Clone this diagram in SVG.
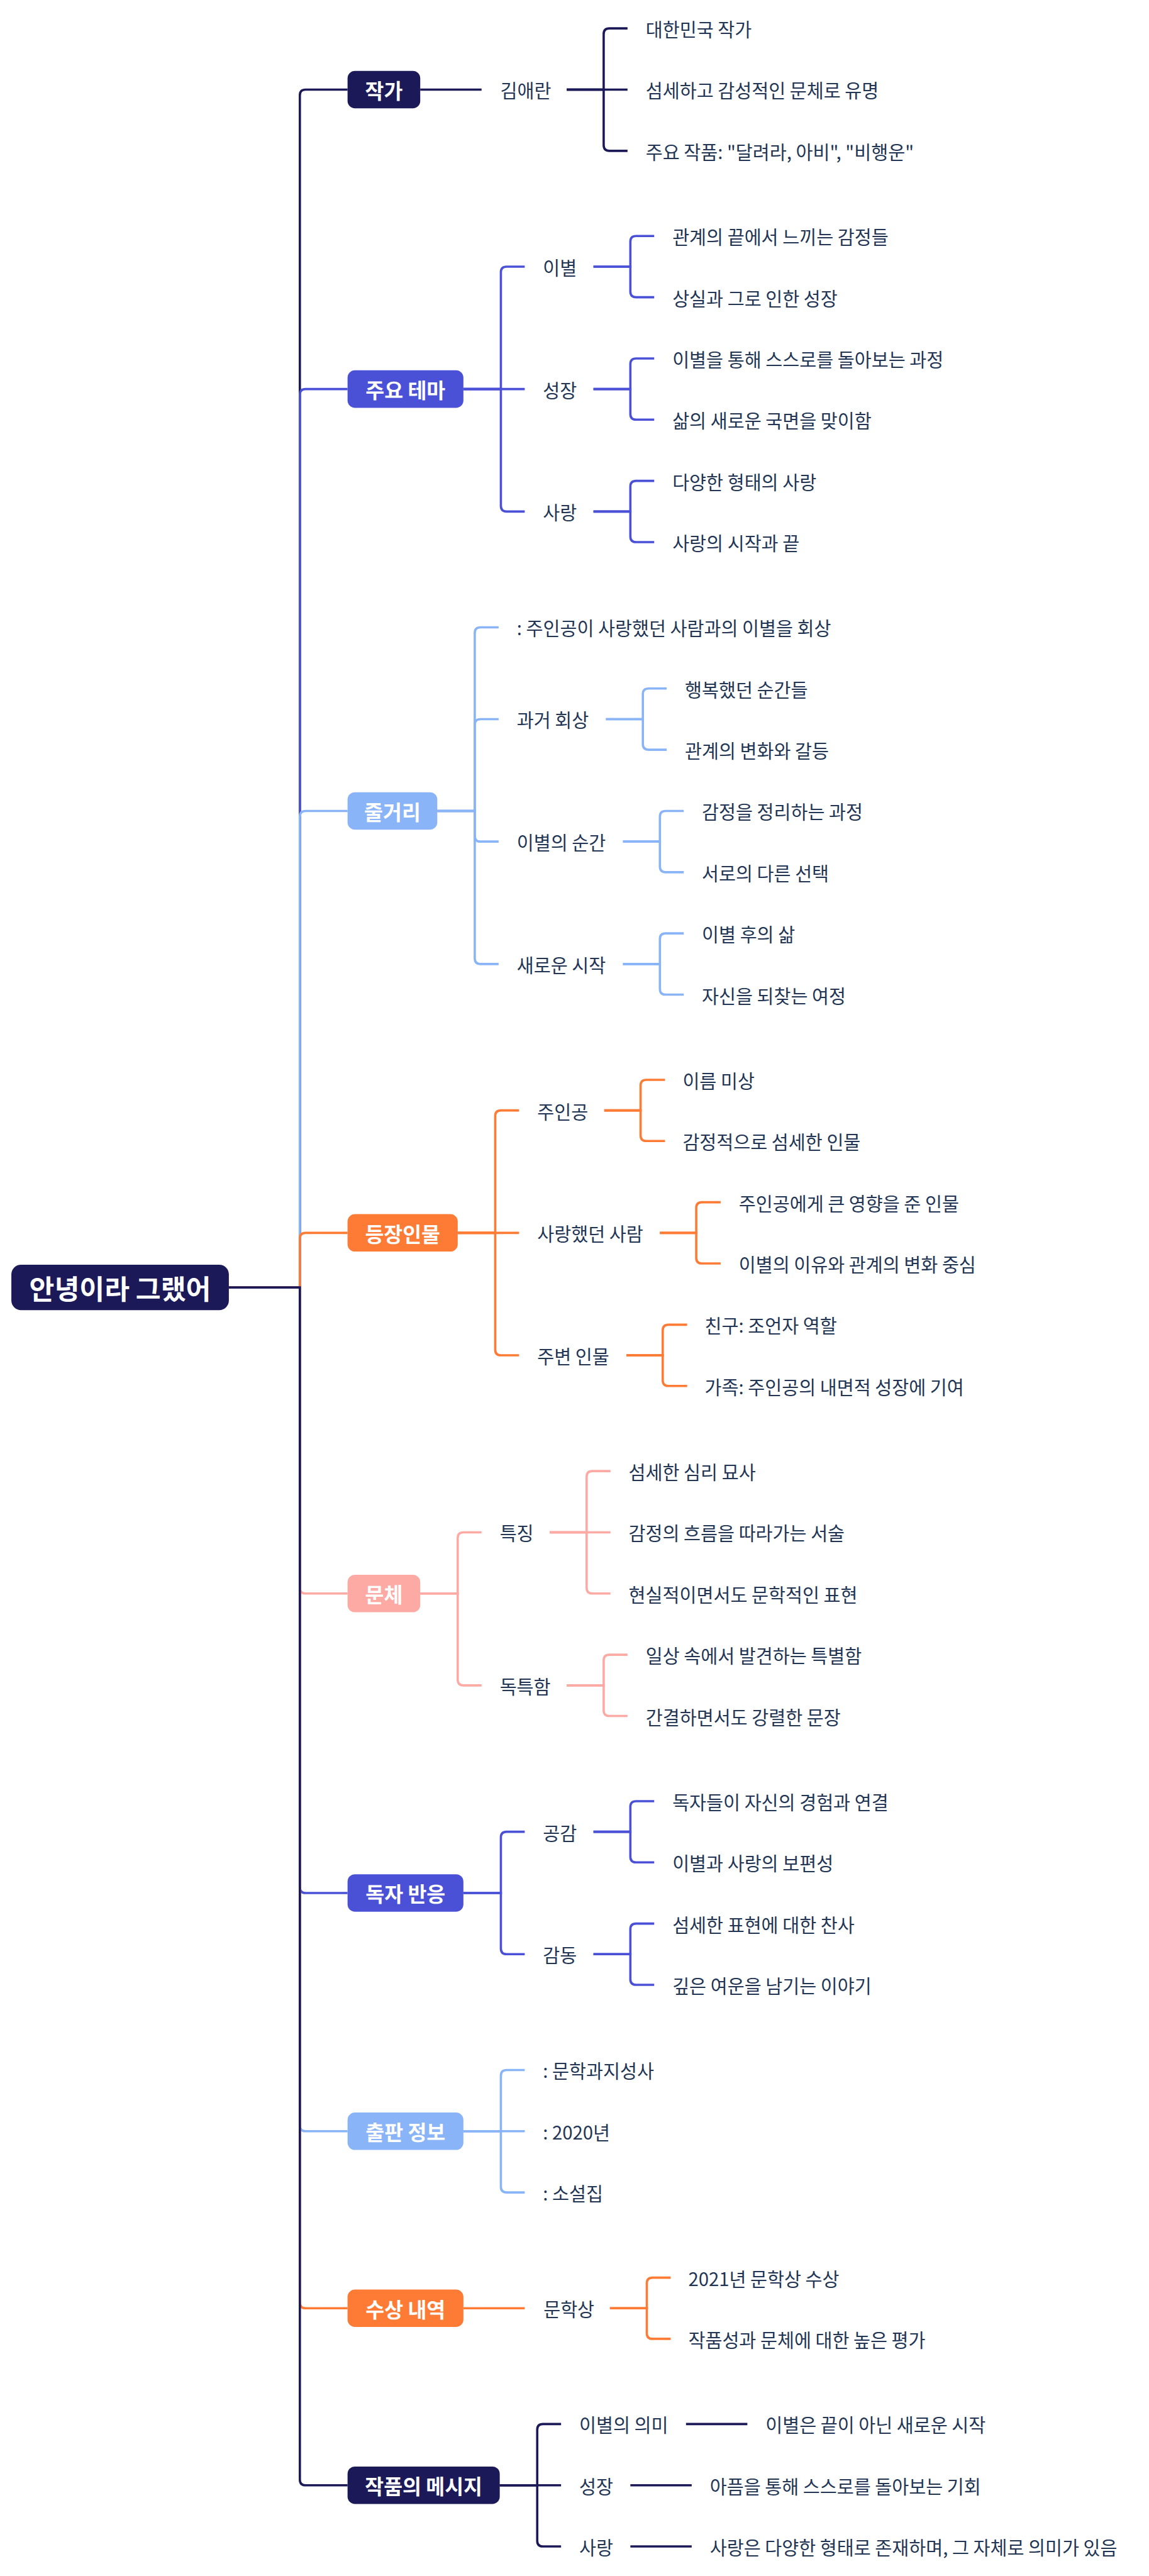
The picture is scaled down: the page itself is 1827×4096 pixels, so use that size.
<svg xmlns="http://www.w3.org/2000/svg" width="1827" height="4096" viewBox="0 0 1827 4096">
<style>
.t{font-family:"Noto Sans CJK KR","Noto Sans",sans-serif;font-size:32.5px;fill:#223555;dominant-baseline:central}
.b{font-family:"Noto Sans CJK KR","Noto Sans",sans-serif;font-size:36px;font-weight:700;fill:#ffffff;text-anchor:middle;dominant-baseline:central}
.r{font-size:48px}
.c path{fill:none;stroke-width:4}
.navy{fill:#1c1959}.blue{fill:#4b51d7}.lb{fill:#8ab4f8}.or{fill:#fd7b35}.pk{fill:#fda9a4}
.sn{stroke:#1c1959}.sb{stroke:#4b51d7}.sl{stroke:#8ab4f8}.so{stroke:#fd7b35}.sp{stroke:#fda9a4}
</style>
<rect width="1827" height="4096" fill="#ffffff"/>
<g transform="scale(0.903)">
<g id="connectors" class="c">
<path class="sn" d="M403,2267 H528 V167.8 Q528,157.8 538,157.8 H612"/>
<path class="sb" d="M403,2267 H528 V695.1 Q528,685.1 538,685.1 H612"/>
<path class="sl" d="M403,2267 H528 V1438 Q528,1428 538,1428 H612"/>
<path class="so" d="M403,2267 H528 V2180.9 Q528,2170.9 538,2170.9 H612"/>
<path class="sp" d="M403,2267 H528 V2796 Q528,2806 538,2806 H612"/>
<path class="sb" d="M403,2267 H528 V3323.3 Q528,3333.3 538,3333.3 H612"/>
<path class="sl" d="M403,2267 H528 V3742.8 Q528,3752.8 538,3752.8 H612"/>
<path class="so" d="M403,2267 H528 V4054.5 Q528,4064.5 538,4064.5 H612"/>
<path class="sn" d="M403,2267 H528 V4366.2 Q528,4376.2 538,4376.2 H612"/>

<path class="sn" d="M740,157.8 H848"/>
<path class="sn" d="M998,157.8 H1063 V60 Q1063,50 1073,50 H1105"/>
<path class="sn" d="M998,157.8 H1105"/>
<path class="sn" d="M998,157.8 H1063 V255.6 Q1063,265.6 1073,265.6 H1105"/>

<path class="sb" d="M816,685.1 H882 V479.5 Q882,469.5 892,469.5 H924"/>
<path class="sb" d="M816,685.1 H924"/>
<path class="sb" d="M816,685.1 H882 V890.7 Q882,900.7 892,900.7 H924"/>
<path class="sb" d="M1045,469.5 H1110 V425.6 Q1110,415.6 1120,415.6 H1152"/>
<path class="sb" d="M1045,469.5 H1110 V513.4 Q1110,523.4 1120,523.4 H1152"/>
<path class="sb" d="M1045,685.1 H1110 V641.2 Q1110,631.2 1120,631.2 H1152"/>
<path class="sb" d="M1045,685.1 H1110 V729 Q1110,739 1120,739 H1152"/>
<path class="sb" d="M1045,900.7 H1110 V856.8 Q1110,846.8 1120,846.8 H1152"/>
<path class="sb" d="M1045,900.7 H1110 V944.6 Q1110,954.6 1120,954.6 H1152"/>

<path class="sl" d="M770,1428 H836 V1114.6 Q836,1104.6 846,1104.6 H878"/>
<path class="sl" d="M770,1428 H836 V1276.3 Q836,1266.3 846,1266.3 H878"/>
<path class="sl" d="M770,1428 H836 V1471.9 Q836,1481.9 846,1481.9 H878"/>
<path class="sl" d="M770,1428 H836 V1687.5 Q836,1697.5 846,1697.5 H878"/>
<path class="sl" d="M1067,1266.3 H1132 V1222.4 Q1132,1212.4 1142,1212.4 H1174"/>
<path class="sl" d="M1067,1266.3 H1132 V1310.2 Q1132,1320.2 1142,1320.2 H1174"/>
<path class="sl" d="M1097,1481.9 H1162 V1438 Q1162,1428 1172,1428 H1204"/>
<path class="sl" d="M1097,1481.9 H1162 V1525.8 Q1162,1535.8 1172,1535.8 H1204"/>
<path class="sl" d="M1097,1697.5 H1162 V1653.6 Q1162,1643.6 1172,1643.6 H1204"/>
<path class="sl" d="M1097,1697.5 H1162 V1741.4 Q1162,1751.4 1172,1751.4 H1204"/>

<path class="so" d="M806,2170.9 H872 V1965.3 Q872,1955.3 882,1955.3 H914"/>
<path class="so" d="M806,2170.9 H914"/>
<path class="so" d="M806,2170.9 H872 V2376.5 Q872,2386.5 882,2386.5 H914"/>
<path class="so" d="M1064,1955.3 H1128 V1911.4 Q1128,1901.4 1138,1901.4 H1171"/>
<path class="so" d="M1064,1955.3 H1128 V1999.2 Q1128,2009.2 1138,2009.2 H1171"/>
<path class="so" d="M1162,2170.9 H1226 V2127 Q1226,2117 1236,2117 H1269"/>
<path class="so" d="M1162,2170.9 H1226 V2214.8 Q1226,2224.8 1236,2224.8 H1269"/>
<path class="so" d="M1103,2386.5 H1167 V2342.6 Q1167,2332.6 1177,2332.6 H1210"/>
<path class="so" d="M1103,2386.5 H1167 V2430.4 Q1167,2440.4 1177,2440.4 H1210"/>

<path class="sp" d="M740,2806 H806 V2708.2 Q806,2698.2 816,2698.2 H848"/>
<path class="sp" d="M740,2806 H806 V2957.7 Q806,2967.7 816,2967.7 H848"/>
<path class="sp" d="M968,2698.2 H1033 V2600.4 Q1033,2590.4 1043,2590.4 H1075"/>
<path class="sp" d="M968,2698.2 H1075"/>
<path class="sp" d="M968,2698.2 H1033 V2796 Q1033,2806 1043,2806 H1075"/>
<path class="sp" d="M998,2967.7 H1063 V2923.8 Q1063,2913.8 1073,2913.8 H1105"/>
<path class="sp" d="M998,2967.7 H1063 V3011.6 Q1063,3021.6 1073,3021.6 H1105"/>

<path class="sb" d="M816,3333.3 H882 V3235.5 Q882,3225.5 892,3225.5 H924"/>
<path class="sb" d="M816,3333.3 H882 V3431.1 Q882,3441.1 892,3441.1 H924"/>
<path class="sb" d="M1045,3225.5 H1110 V3181.6 Q1110,3171.6 1120,3171.6 H1152"/>
<path class="sb" d="M1045,3225.5 H1110 V3269.4 Q1110,3279.4 1120,3279.4 H1152"/>
<path class="sb" d="M1045,3441.1 H1110 V3397.2 Q1110,3387.2 1120,3387.2 H1152"/>
<path class="sb" d="M1045,3441.1 H1110 V3485 Q1110,3495 1120,3495 H1152"/>

<path class="sl" d="M816,3752.8 H882 V3655 Q882,3645 892,3645 H924"/>
<path class="sl" d="M816,3752.8 H924"/>
<path class="sl" d="M816,3752.8 H882 V3850.6 Q882,3860.6 892,3860.6 H924"/>

<path class="so" d="M816,4064.5 H924"/>
<path class="so" d="M1074,4064.5 H1139 V4020.6 Q1139,4010.6 1149,4010.6 H1181"/>
<path class="so" d="M1074,4064.5 H1139 V4108.4 Q1139,4118.4 1149,4118.4 H1181"/>

<path class="sn" d="M880,4376.2 H946 V4278.4 Q946,4268.4 956,4268.4 H988"/>
<path class="sn" d="M880,4376.2 H988"/>
<path class="sn" d="M880,4376.2 H946 V4474 Q946,4484 956,4484 H988"/>
<path class="sn" d="M1208,4268.4 H1316"/>
<path class="sn" d="M1110,4376.2 H1218"/>
<path class="sn" d="M1110,4484 H1218"/>
</g>

<g id="root"><rect class="navy" x="20" y="2227" width="383" height="80" rx="17"/><text class="b r" x="211.5" y="2267">안녕이라 그랬어</text></g>

<g id="b1"><rect class="navy" x="612" y="124.8" width="128" height="66" rx="13"/><text class="b" x="676" y="157.8">작가</text></g>
<g id="b1-1"><text class="t" x="881" y="157.8">김애란</text></g>
<g id="b1-1-1"><text class="t" x="1137" y="50">대한민국 작가</text></g>
<g id="b1-1-2"><text class="t" x="1137" y="157.8">섬세하고 감성적인 문체로 유명</text></g>
<g id="b1-1-3"><text class="t" x="1137" y="265.6">주요 작품: "달려라, 아비", "비행운"</text></g>

<g id="b2"><rect class="blue" x="612" y="652.1" width="204" height="66" rx="13"/><text class="b" x="714" y="685.1">주요 테마</text></g>
<g id="b2-1"><text class="t" x="956" y="469.5">이별</text></g>
<g id="b2-1-1"><text class="t" x="1184" y="415.6">관계의 끝에서 느끼는 감정들</text></g>
<g id="b2-1-2"><text class="t" x="1184" y="523.4">상실과 그로 인한 성장</text></g>
<g id="b2-2"><text class="t" x="956" y="685.1">성장</text></g>
<g id="b2-2-1"><text class="t" x="1184" y="631.2">이별을 통해 스스로를 돌아보는 과정</text></g>
<g id="b2-2-2"><text class="t" x="1184" y="739">삶의 새로운 국면을 맞이함</text></g>
<g id="b2-3"><text class="t" x="956" y="900.7">사랑</text></g>
<g id="b2-3-1"><text class="t" x="1184" y="846.8">다양한 형태의 사랑</text></g>
<g id="b2-3-2"><text class="t" x="1184" y="954.6">사랑의 시작과 끝</text></g>

<g id="b3"><rect class="lb" x="612" y="1395" width="158" height="66" rx="13"/><text class="b" x="691" y="1428">줄거리</text></g>
<g id="b3-1"><text class="t" x="910" y="1104.6">: 주인공이 사랑했던 사람과의 이별을 회상</text></g>
<g id="b3-2"><text class="t" x="910" y="1266.3">과거 회상</text></g>
<g id="b3-2-1"><text class="t" x="1206" y="1212.4">행복했던 순간들</text></g>
<g id="b3-2-2"><text class="t" x="1206" y="1320.2">관계의 변화와 갈등</text></g>
<g id="b3-3"><text class="t" x="910" y="1481.9">이별의 순간</text></g>
<g id="b3-3-1"><text class="t" x="1236" y="1428">감정을 정리하는 과정</text></g>
<g id="b3-3-2"><text class="t" x="1236" y="1535.8">서로의 다른 선택</text></g>
<g id="b3-4"><text class="t" x="910" y="1697.5">새로운 시작</text></g>
<g id="b3-4-1"><text class="t" x="1236" y="1643.6">이별 후의 삶</text></g>
<g id="b3-4-2"><text class="t" x="1236" y="1751.4">자신을 되찾는 여정</text></g>

<g id="b4"><rect class="or" x="612" y="2137.9" width="194" height="66" rx="13"/><text class="b" x="709" y="2170.9">등장인물</text></g>
<g id="b4-1"><text class="t" x="946" y="1955.3">주인공</text></g>
<g id="b4-1-1"><text class="t" x="1202" y="1901.4">이름 미상</text></g>
<g id="b4-1-2"><text class="t" x="1202" y="2009.2">감정적으로 섬세한 인물</text></g>
<g id="b4-2"><text class="t" x="946" y="2170.9">사랑했던 사람</text></g>
<g id="b4-2-1"><text class="t" x="1301" y="2117">주인공에게 큰 영향을 준 인물</text></g>
<g id="b4-2-2"><text class="t" x="1301" y="2224.8">이별의 이유와 관계의 변화 중심</text></g>
<g id="b4-3"><text class="t" x="946" y="2386.5">주변 인물</text></g>
<g id="b4-3-1"><text class="t" x="1241" y="2332.6">친구: 조언자 역할</text></g>
<g id="b4-3-2"><text class="t" x="1241" y="2440.4">가족: 주인공의 내면적 성장에 기여</text></g>

<g id="b5"><rect class="pk" x="612" y="2773" width="128" height="66" rx="13"/><text class="b" x="676" y="2806">문체</text></g>
<g id="b5-1"><text class="t" x="880" y="2698.2">특징</text></g>
<g id="b5-1-1"><text class="t" x="1107" y="2590.4">섬세한 심리 묘사</text></g>
<g id="b5-1-2"><text class="t" x="1107" y="2698.2">감정의 흐름을 따라가는 서술</text></g>
<g id="b5-1-3"><text class="t" x="1107" y="2806">현실적이면서도 문학적인 표현</text></g>
<g id="b5-2"><text class="t" x="880" y="2967.7">독특함</text></g>
<g id="b5-2-1"><text class="t" x="1137" y="2913.8">일상 속에서 발견하는 특별함</text></g>
<g id="b5-2-2"><text class="t" x="1137" y="3021.6">간결하면서도 강렬한 문장</text></g>

<g id="b6"><rect class="blue" x="612" y="3300.3" width="204" height="66" rx="13"/><text class="b" x="714" y="3333.3">독자 반응</text></g>
<g id="b6-1"><text class="t" x="956" y="3225.5">공감</text></g>
<g id="b6-1-1"><text class="t" x="1184" y="3171.6">독자들이 자신의 경험과 연결</text></g>
<g id="b6-1-2"><text class="t" x="1184" y="3279.4">이별과 사랑의 보편성</text></g>
<g id="b6-2"><text class="t" x="956" y="3441.1">감동</text></g>
<g id="b6-2-1"><text class="t" x="1184" y="3387.2">섬세한 표현에 대한 찬사</text></g>
<g id="b6-2-2"><text class="t" x="1184" y="3495">깊은 여운을 남기는 이야기</text></g>

<g id="b7"><rect class="lb" x="612" y="3719.8" width="204" height="66" rx="13"/><text class="b" x="714" y="3752.8">출판 정보</text></g>
<g id="b7-1"><text class="t" x="956" y="3645">: 문학과지성사</text></g>
<g id="b7-2"><text class="t" x="956" y="3752.8">: 2020년</text></g>
<g id="b7-3"><text class="t" x="956" y="3860.6">: 소설집</text></g>

<g id="b8"><rect class="or" x="612" y="4031.5" width="204" height="66" rx="13"/><text class="b" x="714" y="4064.5">수상 내역</text></g>
<g id="b8-1"><text class="t" x="957" y="4064.5">문학상</text></g>
<g id="b8-1-1"><text class="t" x="1212" y="4010.6">2021년 문학상 수상</text></g>
<g id="b8-1-2"><text class="t" x="1212" y="4118.4">작품성과 문체에 대한 높은 평가</text></g>

<g id="b9"><rect class="navy" x="612" y="4343.2" width="268" height="66" rx="13"/><text class="b" x="746" y="4376.2">작품의 메시지</text></g>
<g id="b9-1"><text class="t" x="1020" y="4268.4">이별의 의미</text></g>
<g id="b9-1-1"><text class="t" x="1348" y="4268.4">이별은 끝이 아닌 새로운 시작</text></g>
<g id="b9-2"><text class="t" x="1020" y="4376.2">성장</text></g>
<g id="b9-2-1"><text class="t" x="1250" y="4376.2">아픔을 통해 스스로를 돌아보는 기회</text></g>
<g id="b9-3"><text class="t" x="1020" y="4484">사랑</text></g>
<g id="b9-3-1"><text class="t" x="1250" y="4484">사랑은 다양한 형태로 존재하며, 그 자체로 의미가 있음</text></g>
</g>
</svg>
